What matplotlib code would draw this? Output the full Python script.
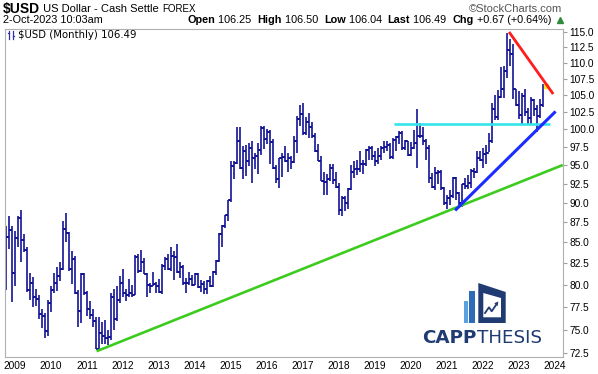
import numpy as np
import pandas as pd
import matplotlib
matplotlib.use('Agg')
import matplotlib.pyplot as plt
from matplotlib.ticker import FixedLocator, FuncFormatter, NullLocator
from matplotlib.patches import Polygon, Rectangle

# ---------------- data: $USD monthly OHLC, Oct 2008 .. Oct 2023 ----------------
months = pd.period_range('2008-10', '2023-10', freq='M')

opens = [
    79.6, 85.7, 86.5,
    81.3, 85.6, 88.0, 85.3, 84.1, 79.4, 80.2, 78.6, 78.4, 76.7, 76.5, 74.8,
    77.9, 79.4, 80.2, 81.0, 81.8, 86.7, 86.2, 81.8, 83.0, 79.0, 77.0, 81.2,
    79.0, 77.2, 76.6, 75.9, 72.9, 74.6, 74.3, 74.1, 74.2, 78.6, 76.2, 78.3,
    80.2, 79.0, 78.8, 79.0, 78.8, 83.2, 81.6, 82.7, 81.2, 79.9, 79.8, 80.1,
    79.8, 79.2, 82.2, 83.0, 81.8, 83.3, 83.2, 81.5, 82.1, 80.2, 80.2, 80.7,
    80.0, 81.2, 79.7, 80.1, 79.5, 80.4, 79.8, 81.5, 82.8, 86.0, 87.0, 88.4,
    90.3, 94.8, 95.3, 98.4, 94.6, 96.9, 95.5, 97.3, 96.0, 96.3, 97.1, 100.2,
    98.6, 99.6, 98.2, 94.6, 93.1, 95.9, 96.1, 95.5, 96.0, 95.4, 98.4, 101.5,
    102.2, 99.5, 101.1, 100.4, 99.0, 97.0, 95.6, 92.9, 92.7, 93.1, 94.6, 93.0,
    92.1, 89.1, 90.6, 89.9, 91.8, 94.0, 94.5, 94.5, 95.1, 95.1, 97.1, 97.3,
    96.2, 95.6, 96.2, 97.3, 97.5, 97.8, 96.1, 98.5, 98.9, 99.4, 97.4, 98.3,
    96.4, 97.4, 98.1, 99.0, 99.0, 98.3, 97.4, 93.3, 92.1, 93.9, 94.0, 91.9,
    89.9, 90.6, 90.9, 93.2, 91.3, 90.0, 92.4, 92.2, 92.6, 94.2, 94.1, 96.0,
    95.7, 96.5, 96.7, 98.3, 103.0, 101.8, 104.7, 105.9, 108.7, 112.1, 111.5, 105.9,
    103.5, 102.1, 104.9, 102.5, 101.7, 104.3, 102.9, 101.9, 103.6, 106.25,
]
highs = [
    87.0, 88.3, 87.0,
    86.4, 88.3, 89.1, 86.0, 84.4, 81.3, 80.9, 79.5, 78.8, 77.3, 76.8, 78.2,
    79.8, 81.3, 82.1, 82.7, 87.6, 88.7, 86.3, 83.9, 83.4, 79.4, 81.4, 81.4,
    79.3, 78.1, 77.3, 76.4, 76.4, 75.8, 76.0, 75.0, 79.0, 79.5, 79.8, 81.0,
    81.8, 79.5, 80.7, 80.0, 83.5, 83.6, 84.1, 83.1, 81.4, 80.2, 81.5, 80.3,
    80.6, 82.4, 83.2, 83.6, 84.5, 83.9, 84.75, 82.6, 82.3, 80.8, 81.5, 81.1,
    81.4, 81.3, 80.5, 80.4, 80.5, 81.0, 81.6, 82.9, 86.1, 87.1, 88.4, 90.3,
    95.5, 95.5, 100.4, 100.4, 97.7, 97.8, 98.0, 98.3, 96.7, 98.0, 100.5, 100.5,
    100.0, 99.9, 98.6, 95.0, 96.0, 96.7, 97.6, 96.6, 96.2, 99.1, 102.0, 103.6,
    103.8, 101.8, 102.3, 101.0, 99.4, 97.9, 96.3, 94.1, 93.8, 95.2, 95.2, 94.0,
    92.6, 90.8, 90.9, 91.9, 95.0, 95.5, 95.7, 96.9, 95.7, 97.2, 97.7, 97.7,
    96.96, 97.4, 97.7, 98.3, 98.4, 98.0, 98.7, 99.0, 99.7, 99.7, 98.5, 98.4,
    98.2, 99.9, 103.0, 100.9, 100.4, 98.6, 97.8, 93.9, 94.7, 94.3, 94.3, 92.0,
    91.0, 91.6, 93.4, 93.4, 91.4, 92.5, 93.2, 93.7, 94.5, 94.6, 96.9, 96.9,
    97.4, 97.8, 99.4, 103.9, 105.0, 105.8, 109.3, 109.5, 114.8, 113.9, 113.1, 106.0,
    105.6, 105.4, 105.9, 103.1, 104.7, 104.5, 103.6, 104.4, 106.8, 106.50,
]
lows = [
    79.4, 84.2, 78.0,
    79.8, 84.5, 82.6, 83.8, 79.2, 78.3, 77.5, 77.6, 76.1, 75.2, 74.1, 74.3,
    76.9, 79.1, 79.3, 80.4, 81.7, 85.0, 81.6, 80.1, 78.9, 75.3, 75.7, 78.8,
    76.5, 76.1, 75.3, 72.9, 72.7, 73.5, 73.5, 73.4, 73.9, 75.0, 75.9, 77.9,
    78.6, 78.1, 78.6, 78.6, 78.8, 81.3, 81.5, 81.2, 78.6, 79.0, 79.8, 79.0,
    79.0, 78.9, 81.7, 81.7, 81.6, 80.5, 81.3, 80.8, 79.9, 79.1, 80.0, 79.8,
    79.9, 79.6, 79.2, 78.9, 78.9, 79.7, 79.7, 81.1, 82.6, 84.5, 86.8, 87.6,
    90.1, 93.1, 95.1, 94.5, 93.1, 93.5, 94.8, 92.6, 94.5, 93.8, 96.4, 97.2,
    97.9, 95.2, 94.5, 92.6, 91.9, 93.4, 95.4, 94.1, 94.5, 95.3, 96.7, 100.5,
    99.2, 99.2, 98.8, 98.8, 96.8, 95.5, 92.8, 91.0, 91.0, 92.8, 92.5, 91.9,
    88.4, 88.25, 88.9, 89.2, 91.6, 93.2, 93.7, 94.1, 93.8, 94.8, 95.7, 95.7,
    94.8, 95.2, 95.7, 96.7, 97.0, 95.8, 95.8, 97.0, 97.9, 97.1, 97.1, 96.3,
    96.3, 97.2, 94.65, 98.8, 97.8, 95.7, 92.6, 91.9, 91.7, 92.5, 91.7, 89.7,
    89.2, 89.7, 90.6, 90.4, 89.5, 89.5, 91.8, 91.8, 91.9, 93.3, 93.9, 95.6,
    94.6, 95.1, 96.8, 98.0, 101.3, 101.3, 104.6, 104.6, 107.7, 109.5, 104.4, 103.4,
    101.5, 100.8, 101.9, 100.8, 100.8, 101.9, 99.6, 101.7, 103.3, 106.04,
]
closes = [
    85.7, 86.5, 81.3,
    85.6, 88.0, 85.3, 84.1, 79.4, 80.2, 78.6, 78.4, 76.7, 76.5, 74.8, 77.9,
    79.4, 80.2, 81.0, 81.8, 86.7, 86.2, 81.8, 83.0, 79.0, 77.0, 81.2, 79.0,
    77.2, 76.6, 75.9, 72.9, 74.6, 74.3, 74.1, 74.2, 78.6, 76.2, 78.3, 80.2,
    79.0, 78.8, 79.0, 78.8, 83.2, 81.6, 82.7, 81.2, 79.9, 79.8, 80.1, 79.8,
    79.2, 82.2, 83.0, 81.8, 83.3, 83.2, 81.5, 82.1, 80.2, 80.2, 80.7, 80.0,
    81.2, 79.7, 80.1, 79.5, 80.4, 79.8, 81.5, 82.8, 86.0, 87.0, 88.4, 90.3,
    94.8, 95.3, 98.4, 94.6, 96.9, 95.5, 97.3, 96.0, 96.3, 97.1, 100.2, 98.6,
    99.6, 98.2, 94.6, 93.1, 95.9, 96.1, 95.5, 96.0, 95.4, 98.4, 101.5, 102.2,
    99.5, 101.1, 100.4, 99.0, 97.0, 95.6, 92.9, 92.7, 93.1, 94.6, 93.0, 92.1,
    89.1, 90.6, 89.9, 91.8, 94.0, 94.5, 94.5, 95.1, 95.1, 97.1, 97.3, 96.2,
    95.6, 96.2, 97.3, 97.5, 97.8, 96.1, 98.5, 98.9, 99.4, 97.4, 98.3, 96.4,
    97.4, 98.1, 99.0, 99.0, 98.3, 97.4, 93.3, 92.1, 93.9, 94.0, 91.9, 89.9,
    90.6, 90.9, 93.2, 91.3, 90.0, 92.4, 92.2, 92.6, 94.2, 94.1, 96.0, 95.7,
    96.5, 96.7, 98.3, 103.0, 101.8, 104.7, 105.9, 108.7, 112.1, 111.5, 105.9, 103.5,
    102.1, 104.9, 102.5, 101.7, 104.3, 102.9, 101.9, 103.6, 106.2, 106.49,
]

# trend lines drawn on the chart (month index, price)
green_x, green_y = [30.2, 185.6], [72.7, 95.0]
blue_x, blue_y = [149.7, 183.2], [89.0, 102.6]
red_x, red_y = [167.7, 182.4], [115.0, 105.2]
cyan_x, cyan_y = [129.3, 181.3], [100.8, 100.8]

year_labels = [str(y) for y in range(2009, 2025)]
price_ticks = [72.5 + 2.5 * k for k in range(18)]

# ---------------- figure ----------------
W, H = 598, 374
fig = plt.figure(figsize=(W / 100, H / 100), dpi=100)
fig.patch.set_facecolor('white')

ax = fig.add_axes([5 / W, 1 - 357 / H, 558 / W, 328 / H])
ax.set_yscale('log')
x = np.arange(len(months))
ax.set_xlim(-0.33, 185.67)
ax.set_ylim(72.1, 115.5)

bar_color = '#0a0a92'
blw = 1.15
ax.vlines(x, lows, highs, color=bar_color, lw=blw, zorder=2)
ax.hlines(opens, x - 0.6, x, color=bar_color, lw=blw, zorder=2)
ax.hlines(closes, x, x + 0.6, color=bar_color, lw=blw, zorder=2)

ax.plot(cyan_x, cyan_y, color='#35e3ea', lw=1.9, solid_capstyle='butt', zorder=3)
ax.plot(green_x, green_y, color='#3ccc1e', lw=1.9, solid_capstyle='butt', zorder=3)
ax.plot(blue_x, blue_y, color='#1c2cff', lw=2.2, solid_capstyle='butt', zorder=3)
ax.plot(red_x, red_y, color='#ff1c1c', lw=2.0, solid_capstyle='butt', zorder=3)
ax.plot([x[-1]], [closes[-1]], marker='s', ms=3.2, color='#ffe51a', mec='#ffe51a', zorder=2.5)

ax.yaxis.tick_right()
ax.yaxis.set_major_locator(FixedLocator(price_ticks))
ax.yaxis.set_minor_locator(NullLocator())
ax.yaxis.set_major_formatter(FuncFormatter(lambda v, p: f'{v:.1f}'))
jan_idx = [int(np.where((months.year == int(y)) & (months.month == 1))[0][0]) if int(y) <= 2023 else len(months) + 2 for y in year_labels]
ax.set_xticks(jan_idx)
ax.set_xticklabels(year_labels)
ax.tick_params(axis='y', which='major', direction='out', length=3, width=0.8,
               color='#a0a0a0', pad=1.5, labelsize=7.3)
ax.tick_params(axis='x', which='major', direction='out', length=0, pad=3, labelsize=7.3)
for lab in ax.get_yticklabels() + ax.get_xticklabels():
    lab.set_family('Liberation Sans')
for s in ax.spines.values():
    s.set_color('#b0b0b0')
    s.set_linewidth(0.8)

# ---------------- overlay: header, legend, logo ----------------
ov = fig.add_axes([0, 0, 1, 1], zorder=5)
ov.set_xlim(0, W)
ov.set_ylim(H, 0)
ov.axis('off')
ov.patch.set_alpha(0)
renderer = fig.canvas.get_renderer()


def seq(x0, y, pieces):
    xx = x0
    items = []
    for s, kw in pieces:
        t = ov.text(xx, y, s, va='center', ha='left', parse_math=False, **kw)
        bb = t.get_window_extent(renderer=renderer)
        xx += bb.width
        items.append(t)
    return items, xx - x0


hf = 'Liberation Sans'
seq(3, 8.5, [('$USD', dict(family=hf, size=10, weight='bold')),
             (' US Dollar - Cash Settle ', dict(family=hf, size=8)),
             ('FOREX', dict(family=hf, size=7))])
ov.text(562, 8.5, '©StockCharts.com', ha='right', va='center', family=hf, size=8,
        color='#555555', parse_math=False)
ov.text(3, 19.5, '2-Oct-2023 10:03am', ha='left', va='center', family=hf, size=7.8, parse_math=False)

b = dict(family=hf, size=7.8, weight='bold')
n = dict(family=hf, size=7.8)
items, total = seq(0, 19.5, [('Open', b), (' 106.25  ', n), ('High', b), (' 106.50  ', n),
                             ('Low', b), (' 106.04  ', n), ('Last', b), (' 106.49  ', n),
                             ('Chg', b), (' +0.67 (+0.64%)', n)])
shift = 551 - total
for t in items:
    px, py = t.get_position()
    t.set_position((px + shift, py))
ov.plot([559.5], [19.5], marker='^', color='#2e8b3a', ms=4.2, mec='#2e8b3a')

# legend
ov.plot([8.5, 8.5], [31, 39], color='#3030b0', lw=0.9)
ov.plot([12.5, 12.5], [30.5, 38.5], color='#3030b0', lw=0.9)
ov.plot([7.5, 8.5], [33, 33], color='#3030b0', lw=0.9)
ov.plot([12.5, 13.5], [36, 36], color='#3030b0', lw=0.9)
ov.text(18, 35, '$USD (Monthly) 106.49', ha='left', va='center', family='DejaVu Sans',
        size=7.3, parse_math=False)

# logo
navy = '#1f3b72'
ov.add_patch(Rectangle((464, 300.7), 4.3, 22.3, color='#5aa2de', lw=0))
ov.add_patch(Rectangle((469, 291.3), 6, 31.7, color='#2d6cb6', lw=0))
ov.add_patch(Polygon([(478.3, 283), (505.7, 292), (505.7, 323), (478.3, 323)],
                     closed=True, color=navy, lw=0))
ov.add_patch(Polygon([(483.3, 293), (501, 298), (501, 317.3), (483.3, 317.3)],
                     closed=True, color='white', lw=0))
ov.plot([485, 489, 491.7, 496.3], [313, 307.3, 311.3, 304.5], color=navy, lw=1.3)
ov.add_patch(Polygon([(498.3, 301.5), (494.3, 303.2), (497.6, 306.2)], closed=True, color=navy, lw=0))
seq(422.5, 337.6, [('CAPP', dict(family='DejaVu Sans', size=13.2, weight='bold', color=navy)),
                   ('THESIS', dict(family='DejaVu Sans', size=13.2, color=navy))])

fig.savefig('out.png', dpi=100, facecolor='white')
